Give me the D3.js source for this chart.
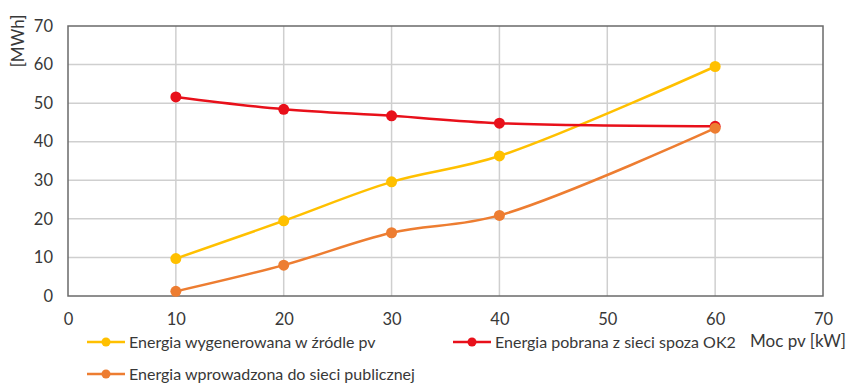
<!DOCTYPE html>
<meta charset="utf-8">
<style>
  body { margin: 0; background: #fff; }
  text { font-family: Lato, "Open Sans", sans-serif; fill: #383838; }
</style>
<div id="chart"></div>
<script src="https://d3js.org/d3.v7.min.js"></script>
<script>

// data
var moc = [10, 20, 30, 40, 60];
var wygenerowana = [9.7, 19.5, 29.6, 36.3, 59.5];
var pobrana = [51.6, 48.4, 46.7, 44.8, 44.0];
var wprowadzona = [1.2, 8.0, 16.4, 20.9, 43.5];
var xTicks = [0, 10, 20, 30, 40, 50, 60, 70];
var yTicks = [0, 10, 20, 30, 40, 50, 60, 70];

var series = [
  {name: "Energia wygenerowana w źródle pv", values: wygenerowana, color: "#FFC000"},
  {name: "Energia pobrana z sieci spoza OK2", values: pobrana, color: "#E8101A"},
  {name: "Energia wprowadzona do sieci publicznej", values: wprowadzona, color: "#ED7D31"}
];

var W = 849, H = 383;
var margin = {top: 26, right: 26, bottom: 87, left: 68},
    width = W - margin.left - margin.right,
    height = H - margin.top - margin.bottom;

var svg = d3.select("#chart").append("svg")
    .attr("width", W)
    .attr("height", H);

var g = svg.append("g")
    .attr("transform", "translate(" + margin.left + "," + margin.top + ")");

var x = d3.scaleLinear().domain([0, 70]).range([0, width]);
var y = d3.scaleLinear().domain([0, 70]).range([height, 0]);

// gridlines
g.append("g")
  .selectAll("line.v")
  .data(xTicks.slice(1, -1))
  .enter().append("line")
    .attr("x1", function(d) { return x(d); })
    .attr("x2", function(d) { return x(d); })
    .attr("y1", 0)
    .attr("y2", height)
    .style("stroke", "#cfcfcf")
    .style("stroke-width", 1.5);

g.append("g")
  .selectAll("line.h")
  .data(yTicks.slice(1, -1))
  .enter().append("line")
    .attr("x1", 0)
    .attr("x2", width)
    .attr("y1", function(d) { return y(d); })
    .attr("y2", function(d) { return y(d); })
    .style("stroke", "#cfcfcf")
    .style("stroke-width", 1.5);

// frame
g.append("rect")
  .attr("width", width)
  .attr("height", height)
  .style("fill", "none")
  .style("stroke", "#6a6a6a")
  .style("stroke-width", 1.5);

// axes (labels only)
var xAxis = g.append("g")
  .attr("transform", "translate(0," + height + ")")
  .call(d3.axisBottom(x).tickValues(xTicks).tickSize(0).tickPadding(17));
xAxis.select(".domain").remove();
xAxis.selectAll("text").style("font-size", "16.5px").style("fill", "#383838");

var yAxis = g.append("g")
  .call(d3.axisLeft(y).tickValues(yTicks).tickSize(0).tickPadding(15));
yAxis.select(".domain").remove();
yAxis.selectAll("text").style("font-size", "16.5px").style("fill", "#383838");

// lines
var line = d3.line()
  .x(function(d, i) { return x(moc[i]); })
  .y(function(d) { return y(d); })
  .curve(d3.curveCatmullRom.alpha(0.5));

series.forEach(function(s) {
  g.append("path")
    .datum(s.values)
    .attr("d", line)
    .style("fill", "none")
    .style("stroke", s.color)
    .style("stroke-width", 2.5);

  g.selectAll(null)
    .data(s.values)
    .enter().append("circle")
      .attr("cx", function(d, i) { return x(moc[i]); })
      .attr("cy", function(d) { return y(d); })
      .attr("r", 5.5)
      .style("fill", s.color);
});

// axis titles
svg.append("text")
  .attr("transform", "translate(24,41) rotate(-90)")
  .attr("text-anchor", "middle")
  .style("font-size", "17px")
  .text("[MWh]");

svg.append("text")
  .attr("x", 846)
  .attr("y", 347)
  .attr("text-anchor", "end")
  .style("font-size", "17px")
  .text("Moc pv [kW]");

// legend
var legendPos = [[87, 342], [453, 342], [87, 374]];
var legend = svg.selectAll("g.legend")
  .data(series)
  .enter().append("g")
    .attr("transform", function(d, i) { return "translate(" + legendPos[i][0] + "," + legendPos[i][1] + ")"; });

legend.append("line")
  .attr("x1", 0).attr("x2", 38)
  .style("stroke", function(d) { return d.color; })
  .style("stroke-width", 2.5);
legend.append("circle")
  .attr("cx", 19).attr("r", 4.5)
  .style("fill", function(d) { return d.color; });
legend.append("text")
  .attr("x", 42)
  .attr("dy", "0.35em")
  .style("font-size", "16px")
  .text(function(d) { return d.name; });

</script>
